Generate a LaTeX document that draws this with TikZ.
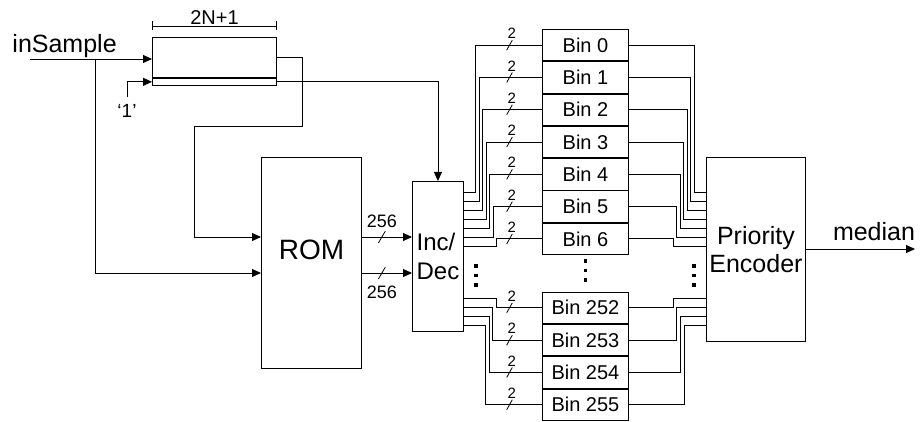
\documentclass[tikz,border=0pt]{standalone}
\usepackage{fontspec}
\setmainfont{Liberation Sans}
\usetikzlibrary{positioning,arrows.meta,calc}

\begin{document}
\begin{tikzpicture}[
    x=1pt, y=-1pt,
    line width=0.9pt,
    arr/.style    = {-{Triangle[length=9pt, width=8pt]}},
    blk/.style    = {draw, rectangle, inner sep=0pt, align=center},
    binbox/.style = {blk, minimum width=86pt, minimum height=31.4pt,
                     font=\fontsize{20}{22}\selectfont},
    slash/.style  = {line width=0.8pt},
    bw/.style     = {font=\fontsize{15}{15}\selectfont, inner sep=0pt},
    sq/.style     = {fill, rectangle, minimum size=3.4pt, inner sep=0pt},
    lbl/.style    = {inner sep=0pt},
]
\useasboundingbox (0,0) rectangle (922,422);

%======== shift register and its inputs ========
\node[blk, minimum width=124pt, minimum height=40pt, anchor=north west] (sreg) at (152,37) {};
\node[blk, minimum width=124pt, minimum height=7pt, anchor=north] (sbit) at (sreg.south) {};
\draw[line width=2pt] (sreg.south west) -- (sreg.south east);
\draw[{Bar[width=9pt]}-{Bar[width=9pt]}] ($(sreg.north west)+(0,-11)$)
    -- node[lbl, above=1.5pt, font=\fontsize{20}{20}\selectfont] (lenlbl) {2N+1}
       ($(sreg.north east)+(0,-11)$);

\node[lbl, anchor=base west, font=\fontsize{25}{25}\selectfont] (insample) at (12,53) {inSample};
\coordinate (inp) at (30,59);
\coordinate (split) at (95,59);
\draw[arr] (inp) -- (inp -| sreg.west);

\coordinate (one) at (127,97);
\draw[arr] (one) |- (sbit.west);
\node[lbl, below=7pt of one, font=\fontsize{19}{19}\selectfont] (onelbl) {`1'};

%======== ROM and Inc/Dec ========
\node[blk, minimum width=100pt, minimum height=211pt, anchor=north west] (rom) at (261,157) {};
\node[lbl, font=\fontsize{28}{28}\selectfont] (romlbl) at ($(rom.north)+(0,93)$) {ROM};
\coordinate (rin1) at ($(rom.north west)+(0,80)$);
\coordinate (rin2) at ($(rom.north west)+(0,116)$);

\node[blk, minimum width=51pt, minimum height=150pt, anchor=north west, align=left,
      font=\fontsize{24}{29}\selectfont] (incdec) at (412,181) {Inc/\\Dec};

\draw[arr] (sreg.east) -- ++(26,0) |- (194,126) |- (rin1);
\draw[arr] (split) |- (rin2);
\draw[arr] (sbit.east) -| (incdec.north);

\draw[arr] (rin1 -| rom.east) -- (rin1 -| incdec.west);
\draw[arr] (rin2 -| rom.east) -- (rin2 -| incdec.west);
\draw[slash] ($(rin1 -| rom.east)+(16.5,6)$) -- ++(7,-12);
\draw[slash] ($(rin2 -| rom.east)+(16.5,6)$) -- ++(7,-12);
\node[lbl, font=\fontsize{18}{18}\selectfont] (w256a) at ($(rin1 -| rom.east)+(20,-16)$) {256};
\node[lbl, font=\fontsize{18}{18}\selectfont] (w256b) at ($(rin2 -| rom.east)+(20,19)$) {256};

%======== counter bins ========
\node[binbox, anchor=north west] (bin0) at (542,29) {Bin 0};
\foreach \i [remember=\i as \j (initially 0)] in {1,...,6}
    \node[binbox, below=0pt of bin\j] (bin\i) {Bin \i};
\node[binbox, anchor=north west] (bin252) at (542,291.7) {Bin 252};
\foreach \i [remember=\i as \j (initially 252)] in {253,254,255}
    \node[binbox, below=0pt of bin\j] (bin\i) {Bin \i};

%======== priority encoder ========
\node[blk, minimum width=99pt, minimum height=184pt, anchor=north west,
      font=\fontsize{25}{28}\selectfont] (penc) at (706,157) {Priority\\Encoder};
\coordinate (outp) at (915,249);
\draw[arr] (penc.east |- outp) -- (outp);
\node[lbl, anchor=base, font=\fontsize{25}{25}\selectfont] (median) at (874,241) {median};

%======== bus wiring ========
\foreach \i in {0,...,6} {
    \coordinate (o\i) at ($(incdec.north east)+(0,{11.7+9*\i})$);
    \coordinate (p\i) at ($(penc.north west)+(0,{35.7+9*\i})$);
    \draw (bin\i.west) -- ++({-66.3+3.5*\i},0) |- (o\i);
    \draw (bin\i.east) -- ++({65.3-3.5*\i},0) |- (p\i);
    \draw[slash] ($(bin\i.west)+(-35.3,5)$) -- ++(5.6,-10);
    \node[bw] (bw\i) at ($(bin\i.west)+(-30.3,-11.6)$) {2};
}
\foreach \n [count=\j from 0] in {252,...,255} {
    \coordinate (o\n) at ($(incdec.north east)+(0,{117.3+9*\j})$);
    \coordinate (p\n) at ($(penc.north west)+(0,{141.3+9*\j})$);
    \draw (bin\n.west) -- ++({-46-3.4*\j},0) |- (o\n);
    \draw (bin\n.east) -- ++({44.3+3.6*\j},0) |- (p\n);
    \draw[slash] ($(bin\n.west)+(-35.3,5)$) -- ++(5.6,-10);
    \node[bw] (bw\n) at ($(bin\n.west)+(-30.3,-11.6)$) {2};
}

% vertical ellipsis between bin 6 and bin 252
\foreach \k in {0,1,2} {
    \node[sq] (dl\k) at ($(incdec.south east)+(12,{-66+9.5*\k})$) {};
    \node[sq] (dm\k) at ($(bin6.south)+(0,{6+9.5*\k})$) {};
    \node[sq] (dr\k) at ($(penc.west)+(-12,{16.7+9.5*\k})$) {};
}

\end{tikzpicture}
\end{document}
